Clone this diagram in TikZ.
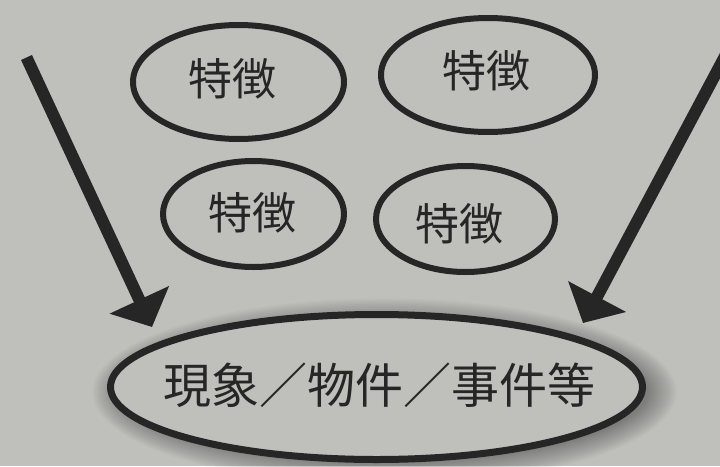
\documentclass[tikz,border=0pt]{standalone}
\usepackage{fontspec}
\newfontfamily\cjk{Noto Sans CJK JP}
\usetikzlibrary{arrows.meta,shapes.geometric}
\definecolor{bg}{RGB}{191,191,188}
\definecolor{ink}{RGB}{38,38,38}
\definecolor{glow}{RGB}{135,135,132}
\pgfdeclareradialshading{innerglow}{\pgfpoint{0bp}{0bp}}{color(0bp)=(bg); color(26bp)=(bg); color(40bp)=(glow!40!bg); color(50bp)=(glow); color(100bp)=(glow)}
\tikzset{
  feat/.style={ellipse, draw=ink, line width=6pt, inner sep=0pt},
  feattext/.style={font=\cjk\fontsize{44}{44}\selectfont, text=ink},
  bigarrow/.style={draw=ink, line width=12pt, line cap=butt,
    -{Triangle[width=64pt,length=30pt]}},
  shadowlayer/.style={fill=black, opacity=0.024},
}
\begin{document}
\begin{tikzpicture}[x=1pt,y=-1pt]
\useasboundingbox (0,0) rectangle (720,466);
\fill[bg] (0,0) rectangle (720,466);
\clip (0,0) rectangle (720,466);

% small feature ellipses
\node[feat, minimum width=211pt, minimum height=114pt,
  label={[feattext, xshift=-6pt, yshift=3pt]center:特徴}] (f1) at (238.5,82) {};
\node[feat, minimum width=214pt, minimum height=114pt,
  label={[feattext, xshift=-2pt, yshift=4pt]center:特徴}] (f2) at (488,75) {};
\node[feat, minimum width=181pt, minimum height=106pt,
  label={[feattext, xshift=-1pt, yshift=1pt]center:特徴}] (f3) at (253.5,214) {};
\node[feat, minimum width=179pt, minimum height=106pt,
  label={[feattext, xshift=-6pt, yshift=-5pt]center:特徴}] (f4) at (465.5,219) {};

% soft shadow of the main ellipse
\coordinate (mc) at (376.5,387);
\foreach \k in {1,...,15}{
  \fill[shadowlayer] ([shift={(8,5)}]mc) ellipse [x radius={262+2*\k}, y radius={68+1.7*\k}];
}

% main ellipse with inner glow
\node[ellipse, draw=ink, line width=7pt, inner sep=0pt,
  minimum width=532pt, minimum height=145pt, shading=innerglow,
  label={[font=\cjk\fontsize{48}{48}\selectfont, text=ink, xshift=3pt, yshift=2pt]center:現象／物件／事件等}]
  (main) at (mc) {};

% arrows
\coordinate (ls) at (26.5,57.5);
\coordinate (lt) at (152,327);
\coordinate (rs) at (765.6,-20);
\coordinate (rt) at (583,323);
\draw[bigarrow] (ls) -- (lt);
\draw[bigarrow] (rs) -- (rt);
\end{tikzpicture}
\end{document}
